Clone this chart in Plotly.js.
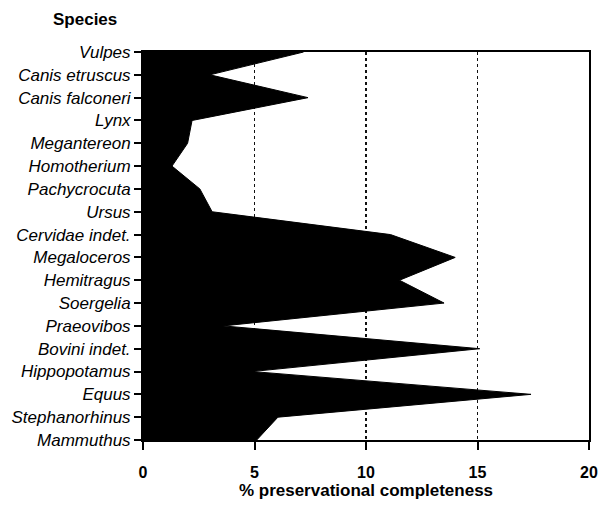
<!DOCTYPE html>
<html>
<head>
<meta charset="utf-8">
<script src="https://cdn.plot.ly/plotly-3.0.1.min.js"></script>
<style>html,body{margin:0;padding:0;background:#fff;}</style>
</head>
<body>
<div id="chart" style="width:605px;height:505px;"></div>
<script>
const species = ["Vulpes","Canis etruscus","Canis falconeri","Lynx","Megantereon","Homotherium","Pachycrocuta","Ursus","Cervidae indet.","Megaloceros","Hemitragus","Soergelia","Praeovibos","Bovini indet.","Hippopotamus","Equus","Stephanorhinus","Mammuthus"];
const completeness = [7.2, 3.0, 7.4, 2.2, 2.0, 1.3, 2.55, 3.1, 11.1, 14.0, 11.5, 13.5, 3.6, 15.1, 4.9, 17.4, 6.05, 5.1];
const xTicks = [0, 5, 10, 15, 20];

const idx = species.map((s, i) => i);

const trace = {
  type: 'scatter',
  mode: 'lines',
  x: completeness,
  y: idx,
  fill: 'tozerox',
  fillcolor: '#000',
  line: {color: '#000', width: 1},
  hoverinfo: 'skip',
  showlegend: false
};

const layout = {
  width: 605,
  height: 505,
  margin: {l: 143, r: 16, t: 52, b: 65},
  paper_bgcolor: '#fff',
  plot_bgcolor: '#fff',
  title: {
    text: '<b>Species</b>',
    x: 53/605, xanchor: 'left',
    y: 1 - 19/505, yanchor: 'middle',
    font: {family: 'Liberation Sans, Arial, sans-serif', size: 17, color: '#000'}
  },
  xaxis: {
    range: [0, 20],
    tickvals: xTicks,
    ticktext: xTicks.map(String),
    showgrid: true,
    gridcolor: '#111',
    griddash: 'dot',
    gridwidth: 1.3,
    zeroline: false,
    showline: true,
    mirror: true,
    linecolor: '#000',
    linewidth: 2,
    ticks: 'outside',
    ticklen: 8,
    tickwidth: 2,
    tickcolor: '#000',
    ticklabelstandoff: 9,
    tickfont: {family: 'Liberation Sans, Arial, sans-serif', size: 16, color: '#000', weight: 'bold'},
    title: {
      text: '<b>% preservational completeness</b>',
      font: {family: 'Liberation Sans, Arial, sans-serif', size: 17, color: '#000'},
      standoff: 3
    }
  },
  yaxis: {
    range: [17, 0],
    tickvals: idx,
    ticktext: species,
    showgrid: false,
    zeroline: false,
    showline: true,
    mirror: true,
    linecolor: '#000',
    linewidth: 2,
    ticks: 'outside',
    ticklen: 7,
    tickwidth: 2,
    tickcolor: '#000',
    tickfont: {family: 'Liberation Sans, Arial, sans-serif', size: 17, color: '#000', style: 'italic'}
  }
};

Plotly.newPlot('chart', [trace], layout, {displayModeBar: false, staticPlot: true});
</script>
</body>
</html>
